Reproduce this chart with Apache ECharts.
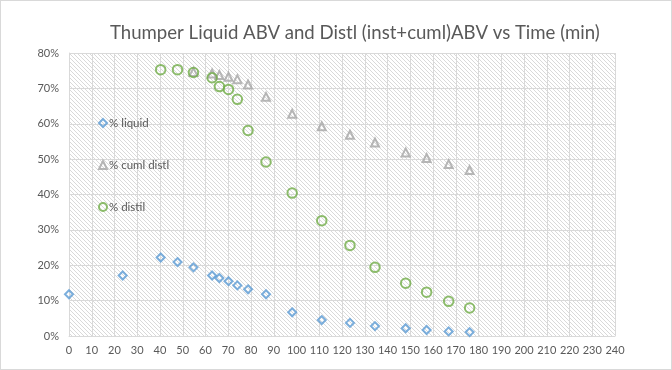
<!DOCTYPE html>
<html>
<head>
<meta charset="utf-8">
<script src="https://cdn.jsdelivr.net/npm/echarts@6/dist/echarts.min.js"></script>
<style>
html,body{margin:0;padding:0;background:#fff;}
#chart{width:672px;height:370px;box-sizing:border-box;border:1px solid #d9d9d9;}
</style>
</head>
<body>
<div id="chart"></div>
<script>
// Time (min) for each sample
const times = [0, 23.6, 40.3, 47.7, 54.7, 62.9, 66.1, 70.1, 74.0, 78.7, 86.6, 98.1, 111.1, 123.5, 134.5, 148.0, 157.2, 166.9, 176.1];
// % liquid (all times)
const liquid = [11.8, 17.1, 22.2, 20.9, 19.4, 17.1, 16.4, 15.5, 14.3, 13.2, 11.8, 6.7, 4.5, 3.7, 2.8, 2.2, 1.7, 1.3, 1.1];
// % distil (from 3rd time on)
const distilTimes = times.slice(2);
const distil = [75.3, 75.3, 74.5, 73.0, 70.5, 69.7, 66.9, 58.1, 49.2, 40.4, 32.6, 25.6, 19.4, 14.9, 12.4, 9.8, 7.9];
// % cuml distl (from 5th time on)
const cumlTimes = times.slice(4);
const cuml = [74.6, 74.2, 73.8, 73.3, 72.6, 71.1, 67.6, 62.8, 59.3, 56.9, 54.7, 51.9, 50.3, 48.6, 46.9];

const seriesNames = ['% liquid', '% cuml distl', '% distil'];
const titleText = 'Thumper Liquid ABV and Distl (inst+cuml)ABV vs Time (min)';

function zip(xs, ys) { return xs.map((x, i) => [x, ys[i]]); }

// hatch pattern for plot background
const pc = document.createElement('canvas');
pc.width = 4; pc.height = 4;
const pctx = pc.getContext('2d');
pctx.fillStyle = '#ffffff';
pctx.fillRect(0, 0, 4, 4);
pctx.fillStyle = '#d9d9d9';
for (let i = 0; i < 4; i++) pctx.fillRect(i, i, 1, 1);

const font = 'Lato, "Open Sans", sans-serif';
const chart = echarts.init(document.getElementById('chart'), null, {renderer: 'canvas'});
chart.setOption({
  animation: false,
  backgroundColor: '#ffffff',
  title: {
    text: titleText,
    left: 104,
    top: 17,
    textStyle: {fontFamily: font, fontSize: 18.6, fontWeight: 'normal', color: '#595959'}
  },
  legend: {
    orient: 'vertical',
    left: 92,
    top: 111,
    itemGap: 30,
    itemWidth: 8,
    itemHeight: 8,
    data: seriesNames,
    textStyle: {fontFamily: font, fontSize: 11.5, color: '#595959', padding: [0, 0, 0, -3]}
  },
  grid: {
    left: 68, right: 56, top: 52, bottom: 33,
    show: true,
    borderWidth: 0,
    backgroundColor: {image: pc, repeat: 'repeat'}
  },
  xAxis: {
    type: 'value', min: 0, max: 240, interval: 10,
    axisLine: {show: true, lineStyle: {color: '#d9d9d9'}},
    axisTick: {show: false},
    splitLine: {show: true, lineStyle: {color: '#d9d9d9', width: 1}},
    axisLabel: {fontFamily: font, fontSize: 11, color: '#595959', margin: 9}
  },
  yAxis: {
    type: 'value', min: 0, max: 80, interval: 10,
    axisLine: {show: true, lineStyle: {color: '#d9d9d9'}},
    axisTick: {show: false},
    splitLine: {show: true, lineStyle: {color: '#d9d9d9', width: 1}},
    axisLabel: {fontFamily: font, fontSize: 11, color: '#595959', margin: 10, formatter: '{value}%'}
  },
  series: [
    {
      name: seriesNames[0], type: 'scatter', symbol: 'diamond', symbolSize: 8,
      itemStyle: {color: 'rgba(255,255,255,0)', borderColor: '#5b9bd5', borderWidth: 2},
      data: zip(times, liquid), z: 3
    },
    {
      name: seriesNames[1], type: 'scatter', symbol: 'triangle', symbolSize: 8,
      itemStyle: {color: 'rgba(255,255,255,0)', borderColor: '#a5a5a5', borderWidth: 2},
      data: zip(cumlTimes, cuml), z: 2
    },
    {
      name: seriesNames[2], type: 'scatter', symbol: 'circle', symbolSize: 9.5,
      itemStyle: {color: 'rgba(255,255,255,0)', borderColor: '#70ad47', borderWidth: 2},
      data: zip(distilTimes, distil), z: 4
    }
  ]
});
</script>
</body>
</html>
